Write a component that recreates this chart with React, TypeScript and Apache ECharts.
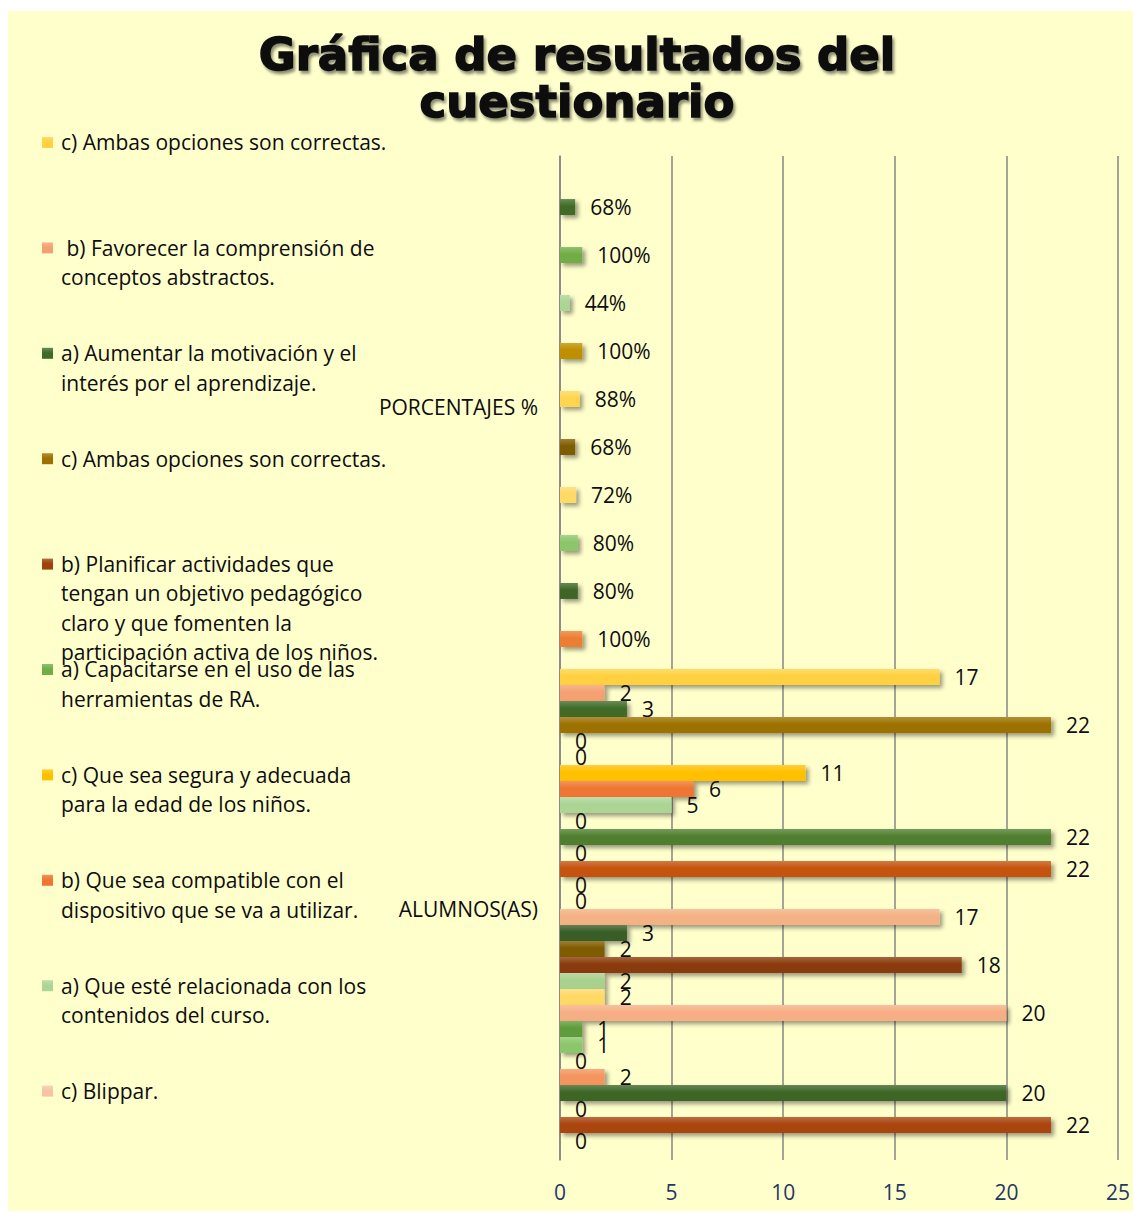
import React, { useEffect, useRef } from "react";
import * as echarts from "echarts";

// ---------- DATA ----------
const categories = ["ALUMNOS(AS)", "PORCENTAJES %"];

// series are listed from the bottom bar of each group to the top bar
const seriesNames = [
  "a)", "b)", "c)",
  "a)", "b)", "c)",
  "a)", "b)", "c)",
  "a)", "b)", "c)",
  "a)", "b)", "c)",
  "a)", "b)", "c)",
  "a)", "b)", "c) Blippar.",
  "a) Que esté relacionada con los\ncontenidos del curso.",
  "b) Que sea compatible con el\ndispositivo que se va a utilizar.",
  "c) Que sea segura y adecuada\npara la edad de los niños.",
  "a) Capacitarse en el uso de las\nherramientas de RA.",
  "b) Planificar actividades que\ntengan un objetivo pedagógico\nclaro y que fomenten la\nparticipación activa de los niños.",
  "c) Ambas opciones son correctas.",
  "a) Aumentar la motivación y el\ninterés por el aprendizaje.",
  " b) Favorecer la comprensión de\nconceptos abstractos.",
  "c) Ambas opciones son correctas.",
];

const alumnos = [
  0, 22, 0,
  20, 2, 0,
  1, 1, 20,
  2, 2, 18,
  2, 3, 17,
  0, 0, 22,
  0, 22, 0,
  5, 6, 11,
  0, 0, 22,
  3, 2, 17,
];

const porcentajes: (number | null)[] = [
  1.0, null, null,
  0.8, null, null,
  0.8, null, null,
  0.72, null, null,
  0.68, null, null,
  0.88, null, null,
  1.0, null, null,
  0.44, null, null,
  1.0, null, null,
  0.68, null, null,
];

const xMin = 0;
const xMax = 25;
const xInterval = 5;

const titleLines = ["Gráfica de resultados del", "cuestionario"];

// number of legend entries visible (Excel truncated legend), from top series down
const legendVisibleCount = 10;

// ---------- STYLE ----------
const colors = [
  "#ED7D31", "#A9440E", "#FFC000",
  "#3D6626", "#F4945E", "#FFD966",
  "#8CC66A", "#5E9C3A", "#F6AE84",
  "#FFD966", "#A9D18E", "#8A3B0B",
  "#7F5C00", "#385D25", "#F4B183",
  "#FFD54F", "#A9D18E", "#C5530F",
  "#BF8F00", "#4F7F2F", "#F8C3A5",
  "#ABD595", "#EE7630", "#FFC000",
  "#70AD47", "#A0430A", "#9C7100",
  "#3F6B28", "#F4A070", "#FFD13F",
];

const FONT = "'Open Sans', 'Noto Sans', sans-serif";
const FS = 21;

function lighten(hex: string, amt: number): string {
  const n = parseInt(hex.slice(1), 16);
  const r = (n >> 16) & 255, g = (n >> 8) & 255, b = n & 255;
  const f = (c: number) => Math.round(c + (255 - c) * amt);
  return `rgb(${f(r)},${f(g)},${f(b)})`;
}

function barGradient(c: string) {
  return new echarts.graphic.LinearGradient(0, 0, 0, 1, [
    { offset: 0, color: lighten(c, 0.22) },
    { offset: 0.45, color: c },
    { offset: 1, color: c },
  ]);
}

export default function App() {
  const ref = useRef<HTMLDivElement>(null);

  useEffect(() => {
    if (!ref.current) return;
    const chart = echarts.init(ref.current, undefined, { renderer: "svg" });

    // ECharts stacks the first series at the top of a horizontal group,
    // Excel at the bottom: feed the series in reverse order.
    const order = seriesNames.map((_, i) => seriesNames.length - 1 - i);
    const series = order.map((i) => ({
      type: "bar",
      name: seriesNames[i],
      data: [alumnos[i], porcentajes[i] === null ? "-" : porcentajes[i]],
      barGap: "0%",
      barCategoryGap: "4.4%",
      itemStyle: {
        color: barGradient(colors[i]),
        shadowColor: "rgba(0,0,0,0.4)",
        shadowBlur: 4,
        shadowOffsetX: 3,
        shadowOffsetY: 3,
      },
      label: {
        show: true,
        position: "right",
        distance: 15,
        fontFamily: FONT,
        fontSize: FS,
        color: "#0D0D0D",
        formatter: (p: any) =>
          p.dataIndex === 1 ? Math.round(p.value * 100) + "%" : String(p.value),
      },
    }));

    // legend (drawn as graphic, Excel shows the last series first)
    const legendTop = 142.5;
    const legendStep = 105.4;
    const lineH = 29.4;
    const legendEls: any[] = [];
    for (let k = 0; k < legendVisibleCount; k++) {
      const idx = seriesNames.length - 1 - k;
      const cy = legendTop + k * legendStep;
      legendEls.push({
        type: "rect",
        shape: { x: 42, y: cy - 5.5, width: 11, height: 11 },
        style: { fill: barGradient(colors[idx]) },
        silent: true,
      });
      legendEls.push({
        type: "text",
        x: 61,
        y: cy - lineH / 2,
        style: {
          text: seriesNames[idx],
          fontFamily: FONT,
          fontSize: FS,
          lineHeight: lineH,
          fill: "#0D0D0D",
          verticalAlign: "top",
          align: "left",
        },
        silent: true,
      });
    }

    chart.setOption({
      animation: false,
      backgroundColor: "transparent",
      grid: { left: 560, right: 13, top: 156, bottom: 53, containLabel: false },
      xAxis: {
        type: "value",
        min: xMin,
        max: xMax,
        interval: xInterval,
        axisLine: { show: false },
        axisTick: { show: false },
        splitLine: { show: true, lineStyle: { color: "#868686", width: 1.5 } },
        axisLabel: { margin: 21, fontFamily: FONT, fontSize: FS, color: "#1F3864" },
      },
      yAxis: {
        type: "category",
        data: categories,
        axisLine: { show: true, lineStyle: { color: "#868686", width: 1.5 } },
        axisTick: { show: false },
        axisLabel: { margin: 22, fontFamily: FONT, fontSize: FS, color: "#0D0D0D" },
      },
      series,
      graphic: [
        {
          type: "text",
          x: 577,
          y: 31,
          style: {
            text: titleLines.join("\n"),
            fontFamily: "'DejaVu Sans', sans-serif",
            fontWeight: 900,
            fontSize: 45,
            lineHeight: 47,
            fill: "#0D0D0D",
            stroke: "#0D0D0D",
            lineWidth: 1.5,
            align: "center",
            verticalAlign: "top",
            textShadowColor: "rgba(0,0,0,0.45)",
            textShadowBlur: 3,
            textShadowOffsetX: 2,
            textShadowOffsetY: 3,
          },
          silent: true,
        },
        ...legendEls,
      ],
    });

    return () => chart.dispose();
  }, []);

  return (
    <div style={{ position: "absolute", left: 0, top: 0, width: 1133, height: 1213, background: "#ffffff" }}>
      <div style={{ position: "absolute", left: 8, top: 11, width: 1125, height: 1200, background: "#FFFFCC" }} />
      <div ref={ref} style={{ position: "absolute", left: 0, top: 0, width: 1133, height: 1213 }} />
    </div>
  );
}
